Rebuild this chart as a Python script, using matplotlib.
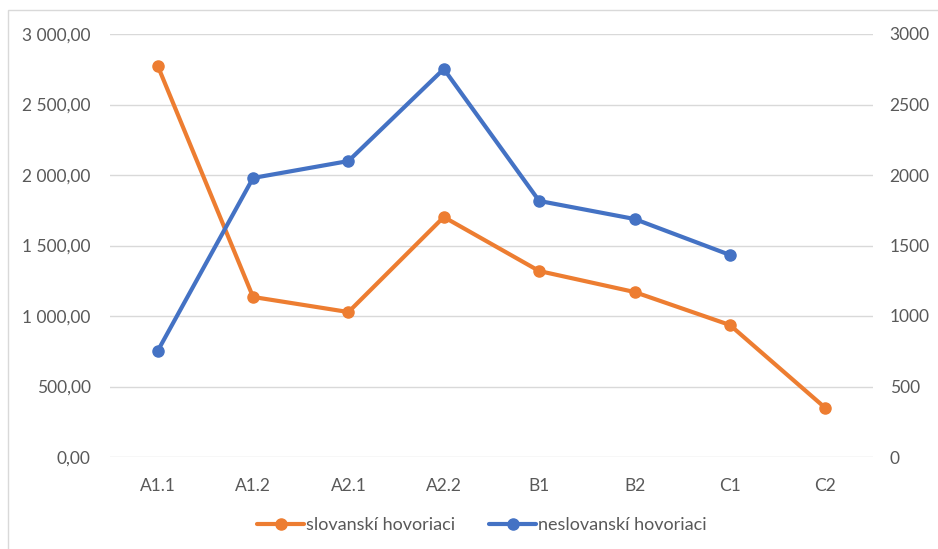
import matplotlib.pyplot as plt
from matplotlib.patches import Rectangle

plt.rcParams['font.family'] = ['Lato', 'DejaVu Sans']

# data
levels = ['A1.1', 'A1.2', 'A2.1', 'A2.2', 'B1', 'B2', 'C1', 'C2']
slovanski = [2775, 1135, 1028, 1702, 1319, 1170, 936, 348]
neslovanski = [752, 1979, 2099, 2752, 1816, 1688, 1433]
left_ticks = [0, 500, 1000, 1500, 2000, 2500, 3000]

orange = '#ED7D31'
blue = '#4472C4'
txt = '#595959'
grid = '#D9D9D9'

fig = plt.figure(figsize=(9.38, 5.49), dpi=100)
fig.patches.append(Rectangle((8 / 938, -0.1), 1.1, 1 - 10 / 549 + 0.1,
                             transform=fig.transFigure, fill=False,
                             edgecolor='#D9D9D9', linewidth=1))

ax = fig.add_axes([110 / 938, 1 - 457 / 549, 763 / 938, 423 / 549])
ax2 = ax.twinx()

x = list(range(len(levels)))
l1, = ax.plot(x, slovanski, color=orange, lw=3, marker='o', ms=8,
              label='slovanskí hovoriaci', solid_capstyle='round', zorder=3)
l2, = ax2.plot(x[:len(neslovanski)], neslovanski, color=blue, lw=3, marker='o',
               ms=8, label='neslovanskí hovoriaci', solid_capstyle='round')

for a in (ax, ax2):
    a.set_ylim(0, 3000)
    a.set_xlim(-0.5, 7.5)
    for s in a.spines.values():
        s.set_visible(False)
    a.tick_params(length=0, colors=txt, labelsize=12.5)

ax.set_yticks(left_ticks)
ax.set_yticklabels([f'{v:,.2f}'.replace(',', ' ').replace('.', ',') for v in left_ticks])
ax.tick_params(axis='y', pad=14)
ax2.set_yticks(left_ticks)
ax2.set_yticklabels([str(v) for v in left_ticks])
ax2.tick_params(axis='y', pad=12)

ax.set_xticks(x)
ax.set_xticklabels(levels)
ax.tick_params(axis='x', pad=15)
ax.grid(axis='y', color=grid, lw=1)
ax.set_axisbelow(True)

fig.legend(handles=[l1, l2], loc='center', bbox_to_anchor=(0.5 + 13 / 938, 1 - 525 / 549),
           ncol=2, frameon=False, fontsize=13, labelcolor=txt,
           handlelength=2.6, columnspacing=1.9, handletextpad=0.1)

fig.savefig('out.png', dpi=100)
